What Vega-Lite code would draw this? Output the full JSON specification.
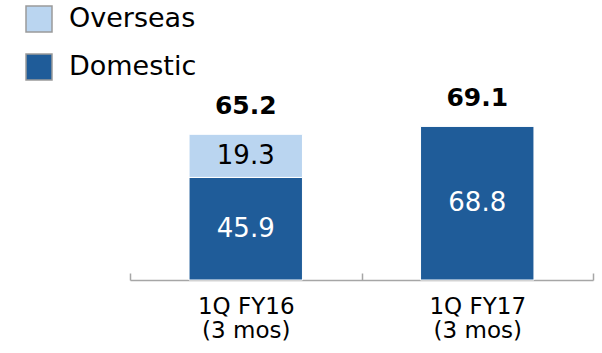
{
  "$schema": "https://vega.github.io/schema/vega-lite/v6.json",
  "width": 463,
  "height": 280,
  "autosize": {"type": "none"},
  "padding": {"left": 130, "top": 0, "right": 9, "bottom": 73},
  "background": "white",
  "config": {
    "view": {"stroke": null},
    "font": "DejaVu Sans",
    "text": {"font": "DejaVu Sans"}
  },
  "data": {
    "values": [
      {"period": "1Q FY16", "segment": "Domestic", "value": 45.9},
      {"period": "1Q FY16", "segment": "Overseas", "value": 19.3},
      {"period": "1Q FY17", "segment": "Domestic", "value": 68.8},
      {"period": "1Q FY17", "segment": "Overseas", "value": 0.3}
    ]
  },
  "transform": [
    {"stack": "value", "groupby": ["period"], "sort": [{"field": "segment", "order": "ascending"}], "as": ["v0", "v1"]}
  ],
  "encoding": {
    "x": {
      "field": "period",
      "type": "nominal",
      "scale": {"paddingInner": 0, "paddingOuter": 0},
      "axis": {
        "title": null,
        "labelAngle": 0,
        "domainColor": "#A6A6A6",
        "domainWidth": 1.5,
        "tickColor": "#A6A6A6",
        "tickWidth": 1.5,
        "tickSize": -7,
        "tickBand": "extent",
        "labelFont": "DejaVu Sans",
        "labelFontSize": 23,
        "labelColor": "black",
        "labelPadding": 22,
        "labelLineHeight": 24,
        "labelBaseline": "top",
        "labelExpr": "datum.value == '1Q FY16' ? ['1Q FY16', '\u00a0\u00a0(3 mos)'] : datum.value == '1Q FY17' ? ['1Q FY17', '\u00a0\u00a0\u00a0\u00a0(3 mos)'] : ''"
      }
    }
  },
  "layer": [
    {
      "mark": {"type": "bar", "width": {"band": 0.49}, "stroke": "white", "strokeWidth": 1},
      "encoding": {
        "y": {"field": "v1", "type": "quantitative", "scale": {"domain": [0, 125.3], "nice": false}, "axis": null},
        "y2": {"field": "v0"},
        "color": {
          "field": "segment",
          "type": "nominal",
          "scale": {"domain": ["Overseas", "Domestic"], "range": ["#BAD5F0", "#1F5C99"]},
          "legend": {
            "title": null,
            "orient": "none",
            "legendX": -105,
            "legendY": 5,
            "padding": 0,
            "symbolType": "square",
            "symbolSize": 676,
            "symbolStrokeColor": "#9A9A9A",
            "symbolStrokeWidth": 1.5,
            "labelFont": "DejaVu Sans",
            "labelFontSize": 27,
            "labelColor": "black",
            "labelOffset": 16,
            "rowPadding": 16
          }
        }
      }
    },
    {
      "transform": [
        {"filter": "datum.value >= 1"},
        {"calculate": "(datum.v0 + datum.v1) / 2", "as": "vmid"}
      ],
      "mark": {"type": "text", "fontSize": 26, "baseline": "middle", "align": "center"},
      "encoding": {
        "y": {"field": "vmid", "type": "quantitative"},
        "text": {"field": "value", "type": "quantitative", "format": ".1f"},
        "color": {"condition": {"test": "datum.segment == 'Domestic'", "value": "white"}, "value": "black"}
      }
    },
    {
      "transform": [
        {"aggregate": [{"op": "sum", "field": "value", "as": "total"}], "groupby": ["period"]}
      ],
      "mark": {"type": "text", "fontSize": 25, "fontWeight": "bold", "baseline": "alphabetic", "align": "center", "dy": -20, "color": "black"},
      "encoding": {
        "y": {"field": "total", "type": "quantitative"},
        "text": {"field": "total", "type": "quantitative", "format": ".1f"}
      }
    }
  ]
}
